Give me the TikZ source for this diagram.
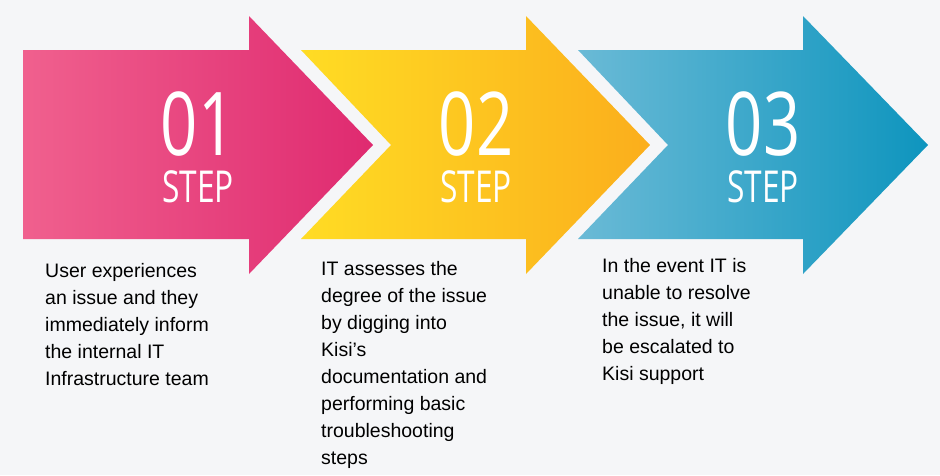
\documentclass[tikz,border=0pt]{standalone}
\usepackage{fontspec}
\setmainfont{Liberation Sans}
\newfontfamily\numfont{Open Sans}
\definecolor{bgcol}{HTML}{F5F6F8}
\definecolor{pinkA}{HTML}{F0608E}
\definecolor{pinkB}{HTML}{DF2A70}
\definecolor{yelA}{HTML}{FFDC24}
\definecolor{yelB}{HTML}{FBAE1C}
\definecolor{blueA}{HTML}{6ABAD6}
\definecolor{blueB}{HTML}{0E95BE}
\tikzset{
  numtext/.style={text=white,inner sep=0pt,font=\numfont\fontsize{88}{88}\selectfont,xscale=0.74},
  steptext/.style={text=white,inner sep=0pt,font=\numfont\fontsize{44}{44}\selectfont,xscale=0.72},
  desc/.style={anchor=north west,align=left,font=\fontsize{19.5}{27}\selectfont,inner sep=0pt}
}
\begin{document}
\begin{tikzpicture}[x=1pt,y=-1pt]
  \fill[bgcol] (0,0) rectangle (940,475);
  \useasboundingbox (0,0) rectangle (940,475);
  % arrows
  \shade[left color=pinkA,right color=pinkB]
    (23,50) -- (249,50) -- (249,16) -- (373,145) -- (249,274) -- (249,239) -- (23,239) -- cycle;
  \shade[left color=yelA,right color=yelB]
    (301,50) -- (526,50) -- (526,16) -- (650,145) -- (526,274) -- (526,239) -- (301,239) -- (391,145) -- cycle;
  \shade[left color=blueA,right color=blueB]
    (578,50) -- (803,50) -- (803,16) -- (928,145) -- (803,274) -- (803,239) -- (578,239) -- (668,145) -- cycle;
  % numbers
  \node[numtext] (n1) at (198,124) {01};
  \node[steptext] (s1) at (198,187) {STEP};
  \node[numtext] (n2) at (476,124) {02};
  \node[steptext] (s2) at (476,187) {STEP};
  \node[numtext] (n3) at (763,124) {03};
  \node[steptext] (s3) at (763,187) {STEP};
  % descriptions
  \node[desc] (d1) at (45,263) {User experiences\\an issue and they\\immediately inform\\the internal IT\\Infrastructure team};
  \node[desc] (d2) at (321,261) {IT assesses the\\degree of the issue\\by digging into\\Kisi's\\documentation and\\performing basic\\troubleshooting\\steps};
  \node[desc] (d3) at (602,258) {In the event IT is\\unable to resolve\\the issue, it will\\be escalated to\\Kisi support};
\end{tikzpicture}
\end{document}
